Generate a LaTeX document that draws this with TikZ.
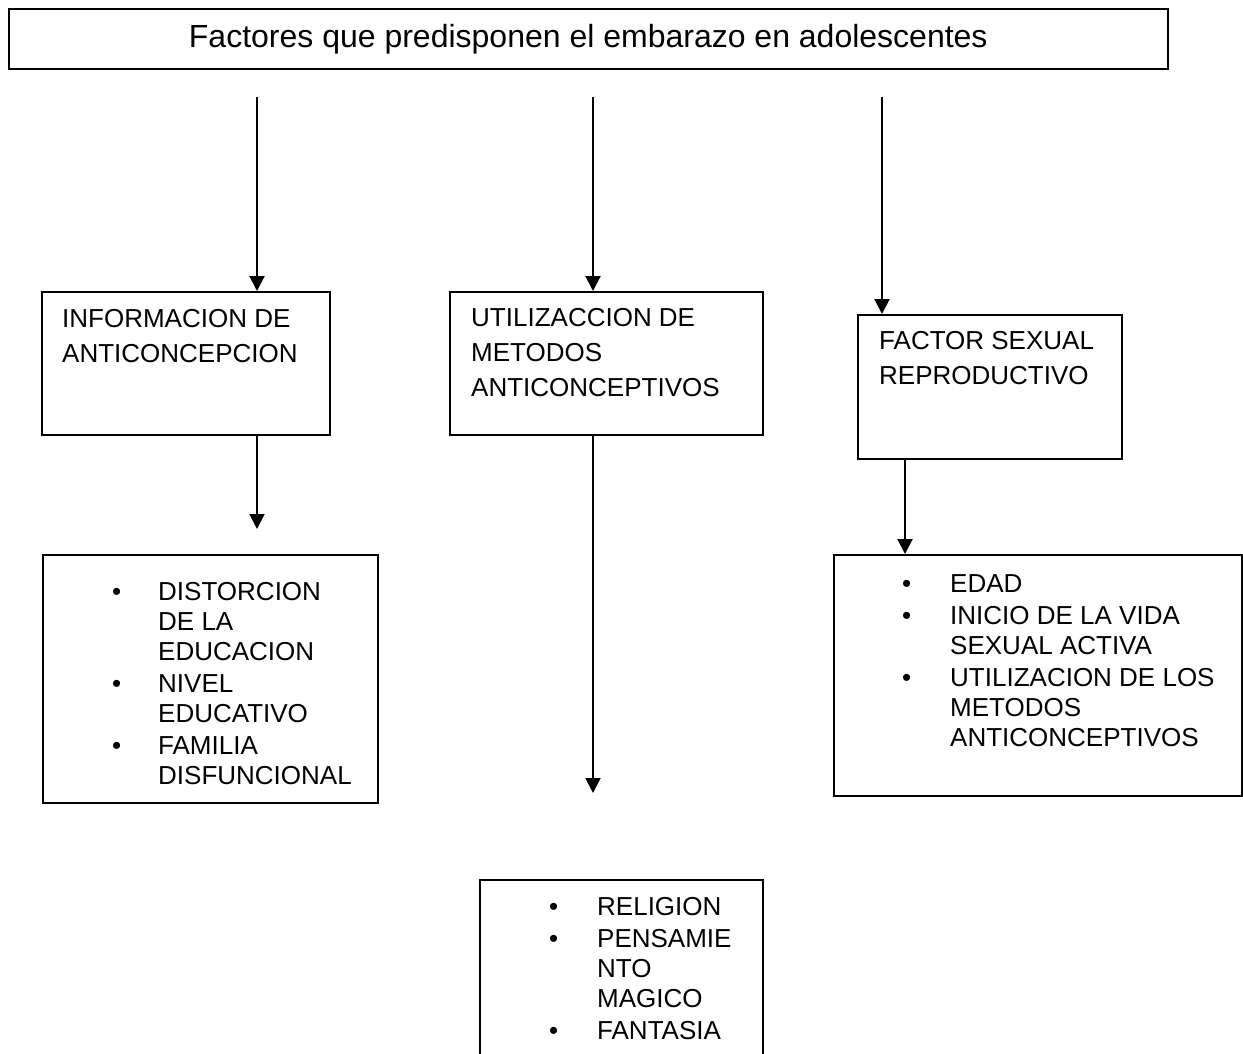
\documentclass[tikz,border=0pt]{standalone}
\usepackage{fontspec}
\setmainfont{Liberation Sans}
\usetikzlibrary{arrows.meta}

\begin{document}
\begin{tikzpicture}[x=1pt,y=-1pt]
%style for boxes
\tikzstyle{box} = [rectangle, draw=black, line width=1.6pt, anchor=north west, inner sep=0pt]

%style for box titles
\tikzstyle{boxtext} = [anchor=base west, inner sep=0pt, font=\fontsize{26}{35}\selectfont]

%style for bullet lists
\tikzstyle{listtext} = [anchor=base west, inner sep=0pt, font=\fontsize{26}{30}\selectfont]

%style for arrows
\tikzstyle{arrow} = [line width=2pt, -{Triangle[width=15pt,length=15pt]}]

\useasboundingbox (0,0) rectangle (1243,1054);

%place nodes
\node[box, minimum width=1159, minimum height=60, font=\fontsize{32}{36}\selectfont] (factores) at (8,8) {Factores que predisponen el embarazo en adolescentes};

\node[box, minimum width=288, minimum height=143] (informacion) at (41,291) {};
\node[boxtext] (informacionText) at (62,327) {\begin{tabular}[t]{@{}l@{}}INFORMACION DE\\ANTICONCEPCION\end{tabular}};

\node[box, minimum width=313, minimum height=143] (utilizacion) at (449,291) {};
\node[boxtext] (utilizacionText) at (471,326) {\begin{tabular}[t]{@{}l@{}}UTILIZACCION DE\\METODOS\\ANTICONCEPTIVOS\end{tabular}};

\node[box, minimum width=264, minimum height=144] (sexual) at (857,314) {};
\node[boxtext] (sexualText) at (879,349) {\begin{tabular}[t]{@{}l@{}}FACTOR SEXUAL\\REPRODUCTIVO\end{tabular}};

\node[box, minimum width=335, minimum height=248] (educacion) at (42,554) {};
\node[listtext] (educacionText) at (112,600) {\begin{tabular}[t]{@{}p{46pt}@{}l@{}}
\textbullet & DISTORCION\\ & DE LA\\ & EDUCACION\\[2pt]
\textbullet & NIVEL\\ & EDUCATIVO\\[2pt]
\textbullet & FAMILIA\\ & DISFUNCIONAL\end{tabular}};

\node[box, minimum width=283, minimum height=220] (religion) at (479,879) {};
\node[listtext] (religionText) at (549,915) {\begin{tabular}[t]{@{}p{48pt}@{}l@{}}
\textbullet & RELIGION\\[2pt]
\textbullet & PENSAMIE\\ & NTO\\ & MAGICO\\[2pt]
\textbullet & FANTASIA\end{tabular}};

\node[box, minimum width=408, minimum height=241] (edad) at (833,554) {};
\node[listtext] (edadText) at (902,592) {\begin{tabular}[t]{@{}p{48pt}@{}l@{}}
\textbullet & EDAD\\[2pt]
\textbullet & INICIO DE LA VIDA\\ & SEXUAL ACTIVA\\[2pt]
\textbullet & UTILIZACION DE LOS\\ & METODOS\\ & ANTICONCEPTIVOS\end{tabular}};

%free ends of the arrows
\coordinate (start1) at (257,97);
\coordinate (start2) at (593,97);
\coordinate (start3) at (882,97);
\coordinate (tip1) at (257,529);
\coordinate (tip2) at (593,793);
\coordinate (tip3) at (905,554);

\draw[arrow] (start1) -- (start1 |- informacion.north);
\draw[arrow] (start2) -- (start2 |- utilizacion.north);
\draw[arrow] (start3) -- (start3 |- sexual.north);

\draw[arrow] (informacion.south -| tip1) -- (tip1);
\draw[arrow] (utilizacion.south -| tip2) -- (tip2);
\draw[arrow] (sexual.south -| tip3) -- (tip3);
\end{tikzpicture}
\end{document}
